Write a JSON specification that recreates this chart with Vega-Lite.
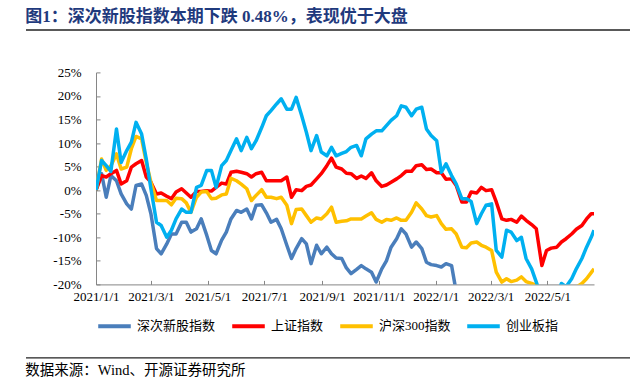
{
  "$schema": "https://vega.github.io/schema/vega-lite/v6.json",
  "padding": {"left": 25, "top": 8, "right": 0, "bottom": 0},
  "background": "white",
  "config": {"view": {"stroke": null}, "font": "Liberation Serif, Noto Sans CJK SC"},
  "datasets": {
    "names": [
      {"k": "a", "name": "深次新股指数"},
      {"k": "b", "name": "上证指数"},
      {"k": "c", "name": "沪深300指数"},
      {"k": "e", "name": "创业板指"}
    ],
    "span": [{"p": 0, "q": 1}]
  },
  "bounds": "flush",
  "spacing": 42.4,
  "resolve": {"scale": {"color": "independent"}, "legend": {"color": "independent"}},
  "vconcat": [
    {
      "title": {"text": "图1：深次新股指数本期下跌 0.48%，表现优于大盘", "anchor": "start", "frame": "bounds", "fontSize": 17, "fontWeight": "bold", "color": "#1F3A7D", "font": "Liberation Serif, Noto Sans CJK SC", "offset": 3},
      "width": 498,
      "height": 1,
      "data": {"name": "span"},
      "mark": {"type": "rule", "color": "#222222", "strokeWidth": 1.3},
      "encoding": {
        "x": {"field": "p", "type": "quantitative", "scale": {"domain": [0, 1], "range": [-70, 535], "nice": false, "zero": false}, "axis": null},
        "x2": {"field": "q"},
        "y": {"datum": 0, "type": "quantitative", "scale": {"domain": [0, 1]}, "axis": null}
      }
    },
    {
      "width": 498,
      "height": 212,
      "data": {"values": [
        {"d": "2021-01-01", "a": 0, "b": 0, "c": 0, "e": 0},
        {"d": "2021-01-07", "a": 3.5, "b": 3.1, "c": 6.6, "e": 6.3},
        {"d": "2021-01-12", "a": -1.5, "b": 2.8, "c": 4.2, "e": 5.2},
        {"d": "2021-01-17", "a": 3.1, "b": 3.5, "c": 5.2, "e": 4.0},
        {"d": "2021-01-23", "a": 2.0, "b": 4.2, "c": 7.7, "e": 13.0},
        {"d": "2021-01-28", "a": -0.8, "b": 1.3, "c": 4.5, "e": 5.9},
        {"d": "2021-02-03", "a": -2.9, "b": 2.0, "c": 4.9, "e": 8.4},
        {"d": "2021-02-08", "a": -4.0, "b": 4.9, "c": 8.8, "e": 10.2},
        {"d": "2021-02-13", "a": 1.0, "b": 5.6, "c": 11.4, "e": 14.4},
        {"d": "2021-02-19", "a": 1.3, "b": 6.3, "c": 10.9, "e": 11.9},
        {"d": "2021-02-24", "a": -1.1, "b": 2.8, "c": 5.9, "e": 6.6},
        {"d": "2021-03-01", "a": -5.0, "b": 1.7, "c": 1.7, "e": 0.3},
        {"d": "2021-03-07", "a": -12.4, "b": -0.8, "c": -2.2, "e": -6.8},
        {"d": "2021-03-12", "a": -13.5, "b": -0.6, "c": -2.2, "e": -7.5},
        {"d": "2021-03-18", "a": -11.4, "b": -1.3, "c": -2.2, "e": -10.0},
        {"d": "2021-03-23", "a": -9.3, "b": -1.8, "c": -3.1, "e": -8.5},
        {"d": "2021-03-28", "a": -9.3, "b": -0.4, "c": -1.7, "e": -6.1},
        {"d": "2021-04-03", "a": -6.8, "b": 0.3, "c": -1.8, "e": -4.0},
        {"d": "2021-04-08", "a": -6.8, "b": -0.6, "c": -2.7, "e": -4.7},
        {"d": "2021-04-13", "a": -8.9, "b": -1.5, "c": -4.7, "e": -4.7},
        {"d": "2021-04-19", "a": -8.2, "b": -0.3, "c": -1.5, "e": 0.6},
        {"d": "2021-04-24", "a": -6.1, "b": -0.3, "c": -0.4, "e": 1.0},
        {"d": "2021-04-30", "a": -9.6, "b": -0.1, "c": -0.3, "e": 4.2},
        {"d": "2021-05-05", "a": -12.8, "b": -0.2, "c": -1.8, "e": 4.2},
        {"d": "2021-05-10", "a": -13.5, "b": 0.6, "c": -1.7, "e": 0.6},
        {"d": "2021-05-16", "a": -10.6, "b": 1.5, "c": -1.0, "e": 5.2},
        {"d": "2021-05-21", "a": -8.9, "b": 1.3, "c": -0.8, "e": 6.3},
        {"d": "2021-05-26", "a": -6.1, "b": 3.8, "c": 2.5, "e": 8.4},
        {"d": "2021-06-01", "a": -4.3, "b": 4.0, "c": 2.0, "e": 10.9},
        {"d": "2021-06-06", "a": -4.7, "b": 3.8, "c": 1.3, "e": 8.4},
        {"d": "2021-06-12", "a": -4.0, "b": 3.5, "c": 0.3, "e": 11.2},
        {"d": "2021-06-17", "a": -6.1, "b": 2.8, "c": -2.2, "e": 8.8},
        {"d": "2021-06-22", "a": -3.2, "b": 3.5, "c": -1.1, "e": 10.5},
        {"d": "2021-06-28", "a": -3.1, "b": 3.8, "c": 0.1, "e": 13.3},
        {"d": "2021-07-03", "a": -4.8, "b": 2.0, "c": -1.5, "e": 15.8},
        {"d": "2021-07-08", "a": -6.8, "b": 2.0, "c": -1.5, "e": 16.9},
        {"d": "2021-07-14", "a": -6.2, "b": 2.0, "c": -1.8, "e": 18.3},
        {"d": "2021-07-19", "a": -8.2, "b": 2.0, "c": -1.5, "e": 19.4},
        {"d": "2021-07-25", "a": -11.7, "b": 2.8, "c": -3.2, "e": 17.2},
        {"d": "2021-07-30", "a": -14.5, "b": -1.5, "c": -7.1, "e": 17.2},
        {"d": "2021-08-04", "a": -12.4, "b": 0.1, "c": -4.1, "e": 19.7},
        {"d": "2021-08-10", "a": -10.3, "b": -0.1, "c": -4.0, "e": 15.8},
        {"d": "2021-08-15", "a": -11.4, "b": 0.8, "c": -5.4, "e": 12.3},
        {"d": "2021-08-20", "a": -15.6, "b": 1.1, "c": -6.8, "e": 8.4},
        {"d": "2021-08-26", "a": -11.7, "b": 2.4, "c": -5.9, "e": 11.6},
        {"d": "2021-08-31", "a": -13.5, "b": 3.5, "c": -6.1, "e": 8.1},
        {"d": "2021-09-06", "a": -12.1, "b": 5.2, "c": -5.0, "e": 7.3},
        {"d": "2021-09-11", "a": -13.5, "b": 6.8, "c": -3.6, "e": 9.1},
        {"d": "2021-09-16", "a": -14.4, "b": 4.9, "c": -6.8, "e": 7.3},
        {"d": "2021-09-22", "a": -14.5, "b": 4.5, "c": -6.6, "e": 7.8},
        {"d": "2021-09-27", "a": -16.5, "b": 3.6, "c": -6.5, "e": 8.2},
        {"d": "2021-10-02", "a": -17.7, "b": 3.5, "c": -6.1, "e": 9.1},
        {"d": "2021-10-08", "a": -16.8, "b": 2.5, "c": -6.1, "e": 9.5},
        {"d": "2021-10-13", "a": -16.0, "b": 3.0, "c": -6.1, "e": 7.3},
        {"d": "2021-10-18", "a": -16.7, "b": 2.5, "c": -5.5, "e": 10.9},
        {"d": "2021-10-24", "a": -17.4, "b": 3.7, "c": -4.8, "e": 11.9},
        {"d": "2021-10-29", "a": -19.5, "b": 2.0, "c": -6.2, "e": 12.6},
        {"d": "2021-11-04", "a": -16.7, "b": 0.8, "c": -6.8, "e": 12.6},
        {"d": "2021-11-09", "a": -15.0, "b": 1.1, "c": -6.2, "e": 13.7},
        {"d": "2021-11-14", "a": -12.1, "b": 1.7, "c": -6.4, "e": 14.8},
        {"d": "2021-11-20", "a": -10.3, "b": 2.4, "c": -5.9, "e": 15.8},
        {"d": "2021-11-25", "a": -8.2, "b": 3.1, "c": -6.4, "e": 17.9},
        {"d": "2021-11-30", "a": -9.3, "b": 4.0, "c": -6.4, "e": 17.6},
        {"d": "2021-12-06", "a": -12.1, "b": 4.0, "c": -4.7, "e": 15.8},
        {"d": "2021-12-11", "a": -11.0, "b": 5.2, "c": -2.7, "e": 17.2},
        {"d": "2021-12-17", "a": -12.4, "b": 5.4, "c": -4.0, "e": 17.6},
        {"d": "2021-12-22", "a": -15.3, "b": 4.4, "c": -5.4, "e": 13.0},
        {"d": "2021-12-27", "a": -15.8, "b": 4.5, "c": -5.7, "e": 11.6},
        {"d": "2022-01-02", "a": -16.0, "b": 3.7, "c": -5.4, "e": 10.5},
        {"d": "2022-01-07", "a": -16.3, "b": 3.7, "c": -7.1, "e": 3.8},
        {"d": "2022-01-12", "a": -15.6, "b": 2.3, "c": -8.3, "e": 5.6},
        {"d": "2022-01-18", "a": -16.0, "b": 2.4, "c": -8.2, "e": 3.1},
        {"d": "2022-01-23", "a": -21.6, "b": 1.0, "c": -9.3, "e": 1.3},
        {"d": "2022-01-29", "a": -24.4, "b": -2.5, "c": -12.1, "e": -1.8},
        {"d": "2022-02-03", "a": -25, "b": -2.5, "c": -12.2, "e": -1.8},
        {"d": "2022-02-08", "a": -26, "b": -0.4, "c": -11.2, "e": -2.4},
        {"d": "2022-02-14", "a": -27, "b": -0.6, "c": -11.0, "e": -7.1},
        {"d": "2022-02-19", "a": -27, "b": 0.6, "c": -11.7, "e": -5.0},
        {"d": "2022-02-24", "a": -27, "b": -0.1, "c": -12.1, "e": -3.2},
        {"d": "2022-03-02", "a": -27, "b": 0.1, "c": -12.8, "e": -2.9},
        {"d": "2022-03-07", "a": -30, "b": -2.5, "c": -17.4, "e": -12.8},
        {"d": "2022-03-13", "a": -32, "b": -6.1, "c": -19.5, "e": -14.2},
        {"d": "2022-03-18", "a": -31, "b": -6.4, "c": -18.8, "e": -8.5},
        {"d": "2022-03-23", "a": -31, "b": -6.2, "c": -19.4, "e": -8.9},
        {"d": "2022-03-29", "a": -32, "b": -6.8, "c": -19.1, "e": -10.7},
        {"d": "2022-04-03", "a": -32, "b": -5.5, "c": -18.4, "e": -10.0},
        {"d": "2022-04-08", "a": -33, "b": -6.4, "c": -19.4, "e": -14.5},
        {"d": "2022-04-14", "a": -34, "b": -7.3, "c": -19.8, "e": -16.7},
        {"d": "2022-04-19", "a": -35, "b": -8.2, "c": -20.2, "e": -19.5},
        {"d": "2022-04-25", "a": -38, "b": -16.0, "c": -23.0, "e": -23.0},
        {"d": "2022-04-30", "a": -37, "b": -12.8, "c": -24.4, "e": -24.4},
        {"d": "2022-05-05", "a": -37, "b": -12.3, "c": -23.4, "e": -23.0},
        {"d": "2022-05-11", "a": -36, "b": -12.1, "c": -22.3, "e": -22.3},
        {"d": "2022-05-16", "a": -36, "b": -11.0, "c": -21.6, "e": -19.8},
        {"d": "2022-05-21", "a": -35, "b": -10.3, "c": -21.3, "e": -20.5},
        {"d": "2022-05-27", "a": -35, "b": -9.3, "c": -20.9, "e": -18.8},
        {"d": "2022-06-01", "a": -34, "b": -8.3, "c": -20.6, "e": -16.7},
        {"d": "2022-06-07", "a": -33, "b": -7.5, "c": -19.8, "e": -14.5},
        {"d": "2022-06-12", "a": -32, "b": -6.1, "c": -18.8, "e": -12.1},
        {"d": "2022-06-17", "a": -31, "b": -5.0, "c": -17.5, "e": -10.0},
        {"d": "2022-06-20", "a": -31, "b": -5.0, "c": -16.7, "e": -8.5}
      ]},
      "transform": [
        {"fold": ["a", "b", "c", "e"], "as": ["s", "v"]},
        {"lookup": "s", "from": {"data": {"name": "names"}, "key": "k", "fields": ["name"]}}
      ],
      "mark": {"type": "line", "strokeWidth": 3.5, "clip": true, "strokeJoin": "round"},
      "encoding": {
        "x": {
          "field": "d", "type": "temporal",
          "scale": {"type": "utc", "domain": [{"year": 2021, "month": 1, "date": 1, "utc": true}, {"year": 2022, "month": 6, "date": 20, "utc": true}]},
          "axis": {
            "values": [
              {"year": 2021, "month": 1, "date": 1, "utc": true},
              {"year": 2021, "month": 3, "date": 1, "utc": true},
              {"year": 2021, "month": 5, "date": 1, "utc": true},
              {"year": 2021, "month": 7, "date": 1, "utc": true},
              {"year": 2021, "month": 9, "date": 1, "utc": true},
              {"year": 2021, "month": 11, "date": 1, "utc": true},
              {"year": 2022, "month": 1, "date": 1, "utc": true},
              {"year": 2022, "month": 3, "date": 1, "utc": true},
              {"year": 2022, "month": 5, "date": 1, "utc": true}
            ],
            "labelExpr": "utcFormat(datum.value, '%Y/%-m/%-d')",
            "labelFont": "Liberation Serif", "labelFontSize": 13, "labelColor": "#000",
            "domainColor": "#868686", "tickColor": "#868686", "tickSize": -4, "labelPadding": 10,
            "labelFlush": false, "labelOverlap": false, "grid": false, "title": null
          }
        },
        "y": {
          "field": "v", "type": "quantitative",
          "scale": {"domain": [-20, 25], "nice": false},
          "axis": {
            "values": [-20, -15, -10, -5, 0, 5, 10, 15, 20, 25],
            "labelExpr": "datum.value + '%'",
            "labelFont": "Liberation Serif", "labelFontSize": 13, "labelColor": "#000",
            "domainColor": "#868686", "tickColor": "#868686", "tickSize": -4, "labelPadding": 19,
            "grid": false, "title": null
          }
        },
        "color": {
          "field": "name", "type": "nominal",
          "scale": {"domain": ["深次新股指数", "上证指数", "沪深300指数", "创业板指"], "range": ["#4A7EBB", "#FF0000", "#FFC000", "#00B0F0"]},
          "legend": {
            "orient": "bottom", "direction": "horizontal", "title": null,
            "symbolType": "stroke", "symbolStrokeWidth": 4, "symbolSize": 1060,
            "labelFont": "Liberation Serif, Noto Sans CJK SC", "labelFontSize": 13, "labelColor": "#000",
            "labelOffset": 4, "columnPadding": 8, "offset": 4
          }
        }
      }
    },
    {
      "width": 498,
      "height": 31,
      "title": {"text": "数据来源：Wind、开源证券研究所", "orient": "bottom", "anchor": "start", "frame": "bounds", "fontSize": 14.5, "fontWeight": "normal", "color": "#000", "font": "Liberation Serif, Noto Sans CJK SC", "offset": 6},
      "data": {"name": "span"},
      "mark": {"type": "rule", "color": "#222222", "strokeWidth": 1.3},
      "encoding": {
        "x": {"field": "p", "type": "quantitative", "scale": {"domain": [0, 1], "range": [-70, 535], "nice": false, "zero": false}, "axis": null},
        "x2": {"field": "q"},
        "y": {"datum": 0, "type": "quantitative", "scale": {"domain": [0, 1]}, "axis": null}
      }
    }
  ]
}
